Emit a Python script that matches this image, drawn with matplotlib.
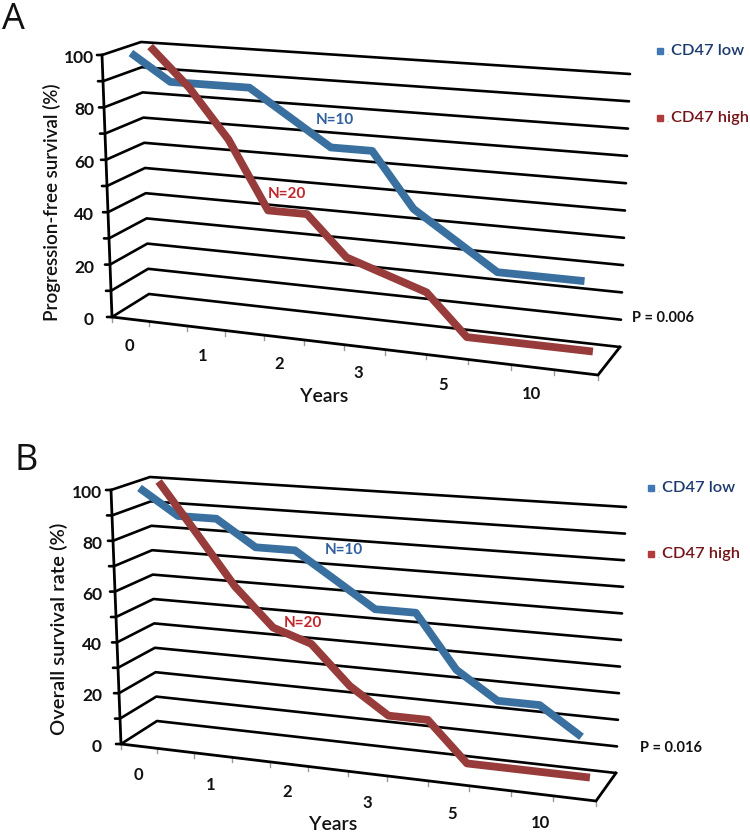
"""CD47 low/high survival curves, drawn as Excel style pseudo-3D line charts."""
import numpy as np
import matplotlib
matplotlib.use("Agg")
import matplotlib.pyplot as plt

plt.rcParams["font.family"] = ["Lato", "DejaVu Sans"]

year_labels = ["0", "1", "2", "3", "5", "10"]
value_ticks = [0, 20, 40, 60, 80, 100]
pfs_low = [100, 90, 90, 90, 80, 70, 70, 50, 40, 30, 30, 30]
pfs_high = [100, 85, 66, 40, 40, 25, 20, 15, 0, 0, 0, 0]
os_low = [100, 90, 90, 80, 80, 70, 60, 60, 40, 30, 30, 20]
os_high = [100, 80, 60, 45, 40, 25, 15, 15, 0, 0, 0, 0]

BLUE, RED = "#39709f", "#983b3b"
N_CAT = len(pfs_low)
PERSP = 0.096  # foreshortening along the category axis

# box corners in figure pixels, front/back + left/right + bottom/top
box_a = dict(fbl=(112, 317), ftl=(102, 55), bbl=(149, 294), btl=(141, 42),
             fbr=(598, 375), ftr=(609, 90), bbr=(620, 347), btr=(630, 74))
box_b = dict(fbl=(121, 744), ftl=(111, 490), bbl=(157, 721), btl=(150, 477),
             fbr=(596, 801), ftr=(607, 524), bbr=(616, 773), btr=(626, 507))


def project(box, u, v, d):
    """u: 0-1 along categories, v: value in %, d: 0 front - 1 back."""
    c = {k: np.array(p, float) for k, p in box.items()}
    f = u / (1 + PERSP * (1 - u))
    bl = c["fbl"] + d * (c["bbl"] - c["fbl"])
    tl = c["ftl"] + d * (c["btl"] - c["ftl"])
    br = c["fbr"] + d * (c["bbr"] - c["fbr"])
    tr = c["ftr"] + d * (c["btr"] - c["ftr"])
    bot = bl + f * (br - bl)
    top = tl + f * (tr - tl)
    return bot + v / 100 * (top - bot)


def draw_panel(ax, box, low, high, ylabel, ylab_xy, ylab_size, tick_x, p_text, p_xy, letter, letter_xy,
               n10_xy, n20_xy, cat_xy, years_xy, leg_x, leg_y):
    # walls: one polyline per 10 % step
    for v in range(0, 101, 10):
        pts = np.array([project(box, 0, v, 0) + (-5, 0), project(box, 0, v, 0),
                        project(box, 0, v, 1), project(box, 1, v, 1)])
        ax.plot(pts[:, 0], pts[:, 1], color="k", lw=1.9, solid_capstyle="round", zorder=2)
    # front axis and floor edge
    edge = np.array([project(box, 0, 100, 0), project(box, 0, 0, 0), project(box, 1, 0, 0),
                     project(box, 1, 0, 1)])
    ax.plot(edge[:, 0], edge[:, 1], color="k", lw=2.0, solid_joinstyle="miter", zorder=2)
    for i in range(N_CAT + 1):
        p = project(box, i / N_CAT, 0, 0)
        ax.plot([p[0], p[0]], [p[1] + 1, p[1] + 5], color="#999999", lw=1, zorder=1)

    for vals, depth, col in [(low, 0.25, BLUE), (high, 0.75, RED)]:
        pts = np.array([project(box, (i + 0.5) / N_CAT, v, depth) for i, v in enumerate(vals)])
        ax.plot(pts[:, 0], pts[:, 1], color=col, lw=5.6, solid_capstyle="butt",
                solid_joinstyle="round", zorder=3)

    for v in value_ticks:
        y = project(box, 0, v, 0)[1]
        ax.text(tick_x, y + 3, str(v), ha="right", va="center", fontsize=12.5, fontweight="bold",
                color="#111111")
    ax.text(*ylab_xy, ylabel, rotation=90, ha="center", va="center", fontsize=ylab_size,
            fontweight="semibold", color="#111111")
    for lab, xy in zip(year_labels, cat_xy):
        ax.text(*xy, lab, ha="center", va="center", fontsize=12, fontweight="bold", color="#111111")
    ax.text(*years_xy, "Years", ha="center", va="center", fontsize=14, fontweight="semibold",
            color="#111111")
    ax.text(*n10_xy, "N=10", ha="center", va="center", fontsize=11, fontweight="bold",
            color="#2f5f9e", zorder=4)
    ax.text(*n20_xy, "N=20", ha="center", va="center", fontsize=11, fontweight="bold",
            color="#c0272d", zorder=4)
    ax.text(*p_xy, p_text, ha="left", va="center", fontsize=10.5, fontweight="bold", color="#111111")
    ax.text(*letter_xy, letter, ha="left", va="center", fontsize=26, color="#111111",
            family=["Open Sans", "DejaVu Sans"])
    # legend
    for y, col, txt, tcol in [(leg_y[0], "#3f78b5", "CD47 low", "#1d3a6e"),
                              (leg_y[1], "#b23a3a", "CD47 high", "#741418")]:
        ax.plot([leg_x], [y], marker="s", ms=5, color=col, ls="none")
        ax.text(leg_x + 8, y + 1, ".", ha="center", va="center", fontsize=7, color="#999999")
        ax.text(leg_x + 11, y, txt, ha="left", va="center", fontsize=11.8, fontweight="semibold",
                color=tcol)


fig = plt.figure(figsize=(7.5, 8.33), dpi=100, facecolor="white")
ax = fig.add_axes([0, 0, 1, 1])
ax.set_xlim(0, 750)
ax.set_ylim(833, 0)
ax.axis("off")

draw_panel(ax, box_a, pfs_low, pfs_high, "Progression-free survival (%)", (52, 202), 13.5, 94,
           "P = 0.006", (632, 318), "A", (2, 20), (335, 120), (287, 194),
           [(129, 346), (203, 356), (279, 364), (358, 373), (443, 385), (531, 394)], (324, 396),
           660, (51, 118))
draw_panel(ax, box_b, os_low, os_high, "Overall survival rate (%)", (59, 629), 14.5, 102,
           "P = 0.016", (640, 748), "B", (15, 461), (344, 550), (303, 623),
           [(138, 775), (211, 785), (287, 792), (367, 803), (452, 814), (540, 823)], (333, 825),
           651, (488, 554))

fig.savefig("out.png", dpi=100)
print("saved out.png")
